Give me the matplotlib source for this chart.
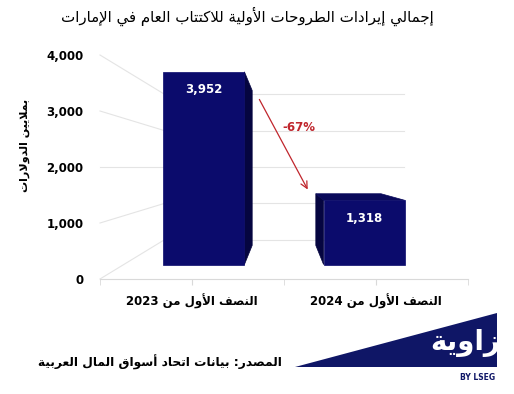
import re
import numpy as np
import matplotlib
matplotlib.use('Agg')
import matplotlib.pyplot as plt
from matplotlib.patches import Polygon

plt.rcParams['font.family'] = ['DejaVu Sans']

# data
periods = ['النصف الأول من 2023', 'النصف الأول من 2024']
values = [3952, 1318]
yticks = [0, 1000, 2000, 3000, 4000]
title = 'إجمالي إيرادات الطروحات الأولية للاكتتاب العام في الإمارات'
ylabel = 'بملايين الدولارات'
source = 'المصدر: بيانات اتحاد أسواق المال العربية'

# minimal arabic shaping (presentation forms B) + right-to-left order
FORMS = {0x0621: (0xFE80, 1), 0x0622: (0xFE81, 2), 0x0623: (0xFE83, 2), 0x0624: (0xFE85, 2),
         0x0625: (0xFE87, 2), 0x0626: (0xFE89, 4), 0x0627: (0xFE8D, 2), 0x0628: (0xFE8F, 4),
         0x0629: (0xFE93, 2), 0x062A: (0xFE95, 4), 0x062B: (0xFE99, 4), 0x062C: (0xFE9D, 4),
         0x062D: (0xFEA1, 4), 0x062E: (0xFEA5, 4), 0x062F: (0xFEA9, 2), 0x0630: (0xFEAB, 2),
         0x0631: (0xFEAD, 2), 0x0632: (0xFEAF, 2), 0x0633: (0xFEB1, 4), 0x0634: (0xFEB5, 4),
         0x0635: (0xFEB9, 4), 0x0636: (0xFEBD, 4), 0x0637: (0xFEC1, 4), 0x0638: (0xFEC5, 4),
         0x0639: (0xFEC9, 4), 0x063A: (0xFECD, 4), 0x0641: (0xFED1, 4), 0x0642: (0xFED5, 4),
         0x0643: (0xFED9, 4), 0x0644: (0xFEDD, 4), 0x0645: (0xFEE1, 4), 0x0646: (0xFEE5, 4),
         0x0647: (0xFEE9, 4), 0x0648: (0xFEED, 2), 0x0649: (0xFEEF, 2), 0x064A: (0xFEF1, 4)}
LAMALEF = {0x0622: 0xFEF5, 0x0623: 0xFEF7, 0x0625: 0xFEF9, 0x0627: 0xFEFB}


def ar(text):
    units = []
    i = 0
    while i < len(text):
        c = ord(text[i])
        if c == 0x0644 and i + 1 < len(text) and ord(text[i + 1]) in LAMALEF:
            units.append(('LA', ord(text[i + 1])))
            i += 2
        else:
            units.append(('C', c))
            i += 1

    def is_ar(u):
        return u is not None and (u[0] == 'LA' or u[1] in FORMS)

    def joins_next(u):
        return is_ar(u) and u[0] == 'C' and FORMS[u[1]][1] == 4

    out = []
    for k, u in enumerate(units):
        if not is_ar(u):
            out.append(chr(u[1]))
            continue
        prev = units[k - 1] if k > 0 else None
        nxt = units[k + 1] if k + 1 < len(units) else None
        p = joins_next(prev)
        if u[0] == 'LA':
            out.append(chr(LAMALEF[u[1]] + (1 if p else 0)))
            continue
        start, count = FORMS[u[1]]
        n = is_ar(nxt) and count == 4
        if count == 1:
            idx = 0
        elif count == 2:
            idx = 1 if p else 0
        else:
            idx = 3 if (p and n) else 1 if p else 2 if n else 0
        out.append(chr(start + idx))
    s = ''.join(out)[::-1]
    return re.sub(r'[0-9A-Za-z,.%]+', lambda m: m.group(0)[::-1], s)


# simple perspective: vanishing point at centre, eye level at 2000
xc, vh = 0.5, 2000
s_front, s_bar_back, s_wall = 0.871, 0.70, 0.65


def proj(x, v, s):
    return xc + (x - xc) * s, vh + (v - vh) * s


fig = plt.figure(figsize=(5.14, 3.94), dpi=100)
ax = fig.add_axes([100 / 514, 1 - 279 / 394, 368 / 514, 224 / 394])
ax.set_xlim(-0.5, 1.5)
ax.set_ylim(0, 4000)

grid_c = '#e4e4e4'
for v in yticks:
    # side wall
    x0, y0 = proj(-0.5, v, 1)
    x1, y1 = proj(-0.5, v, s_wall)
    ax.plot([x0, x1], [y0, y1], color=grid_c, lw=0.8, zorder=1, clip_on=False)
    # back wall
    x2, y2 = proj(1.5, v, s_wall)
    ax.plot([x1, x2], [y1, y2], color=grid_c, lw=0.8, zorder=1, clip_on=False)

front_c, side_c, top_c = '#0b0b6c', '#050540', '#09095a'
w = 0.253
for i, v in enumerate(values):
    f = [proj(i - w, 0, s_front), proj(i + w, 0, s_front),
         proj(i + w, v, s_front), proj(i - w, v, s_front)]
    if i + w < xc:
        e = i + w
        side = [proj(e, 0, s_front), proj(e, 0, s_bar_back), proj(e, v, s_bar_back), proj(e, v, s_front)]
        ax.add_patch(Polygon(side, closed=True, fc=side_c, ec=side_c, lw=0.5, zorder=2))
    elif i - w > xc:
        e = i - w
        side = [proj(e, 0, s_front), proj(e, 0, s_bar_back), proj(e, v, s_bar_back), proj(e, v, s_front)]
        ax.add_patch(Polygon(side, closed=True, fc=side_c, ec=side_c, lw=0.5, zorder=2))
    if v < vh:
        top = [proj(i - w, v, s_front), proj(i + w, v, s_front),
               proj(i + w, v, s_bar_back), proj(i - w, v, s_bar_back)]
        ax.add_patch(Polygon(top, closed=True, fc=top_c, ec=top_c, lw=0.5, zorder=2))
    ax.add_patch(Polygon(f, closed=True, fc=front_c, ec=front_c, lw=0.5, zorder=3))
    tx, ty = proj(i, v, s_front)
    ax.annotate(f'{v:,}', (tx, ty), xytext=(0, -13), textcoords='offset points',
                ha='center', va='center', color='white', fontsize=8.5, fontweight='bold', zorder=4)

# change arrow
chg = (values[1] - values[0]) / values[0] * 100
red = '#c0262d'
ax.annotate('', xy=(0.636, 1554), xytext=(0.359, 3250),
            arrowprops=dict(arrowstyle='->', color=red, lw=0.9, mutation_scale=12), zorder=5)
ax.text(0.58, 2700, f'{chg:.0f}%', color=red, fontsize=8.5, fontweight='bold',
        ha='center', va='center', zorder=5)

for sp in ['top', 'left', 'right']:
    ax.spines[sp].set_visible(False)
ax.spines['bottom'].set_color('#d9d9d9')
ax.set_yticks(yticks)
ax.set_yticklabels([f'{t:,}' for t in yticks], fontsize=8.5, fontweight='bold')
ax.tick_params(axis='y', length=0, pad=12)
ax.set_xticks([0, 1])
ax.set_xticks([-0.5, 0.5, 1.5], minor=True)
ax.set_xticklabels([ar(p) for p in periods], fontsize=8.5, fontweight='bold')
ax.tick_params(axis='x', which='both', length=4, color='#d9d9d9', pad=7)

fig.text(247 / 514, 1 - 16 / 394, ar(title), ha='center', va='center', fontsize=10.8)
fig.text(25 / 514, 1 - 145 / 394, ar(ylabel), ha='center', va='center', rotation=90,
         fontsize=8, fontweight='bold')
fig.text(282 / 514, 1 - 362 / 394, ar(source), ha='right', va='center', fontsize=8.8,
         fontweight='bold')

# logo
navy = '#0f1666'
tri = Polygon([(295 / 514, 1 - 367 / 394), (497 / 514, 1 - 313 / 394), (497 / 514, 1 - 367 / 394)],
              closed=True, transform=fig.transFigure, fc=navy, ec='none')
fig.patches.append(tri)
logo = fig.text(500 / 514, 1 - 343 / 394, ar('زاوية'), ha='right', va='center', color='white',
                fontsize=20, fontweight='bold')
logo.set_clip_path(tri)
fig.text(495 / 514, 1 - 378 / 394, 'BY LSEG', ha='right', va='center', color=navy,
         fontsize=5.5, fontweight='bold')

fig.savefig('out.png', dpi=100)
